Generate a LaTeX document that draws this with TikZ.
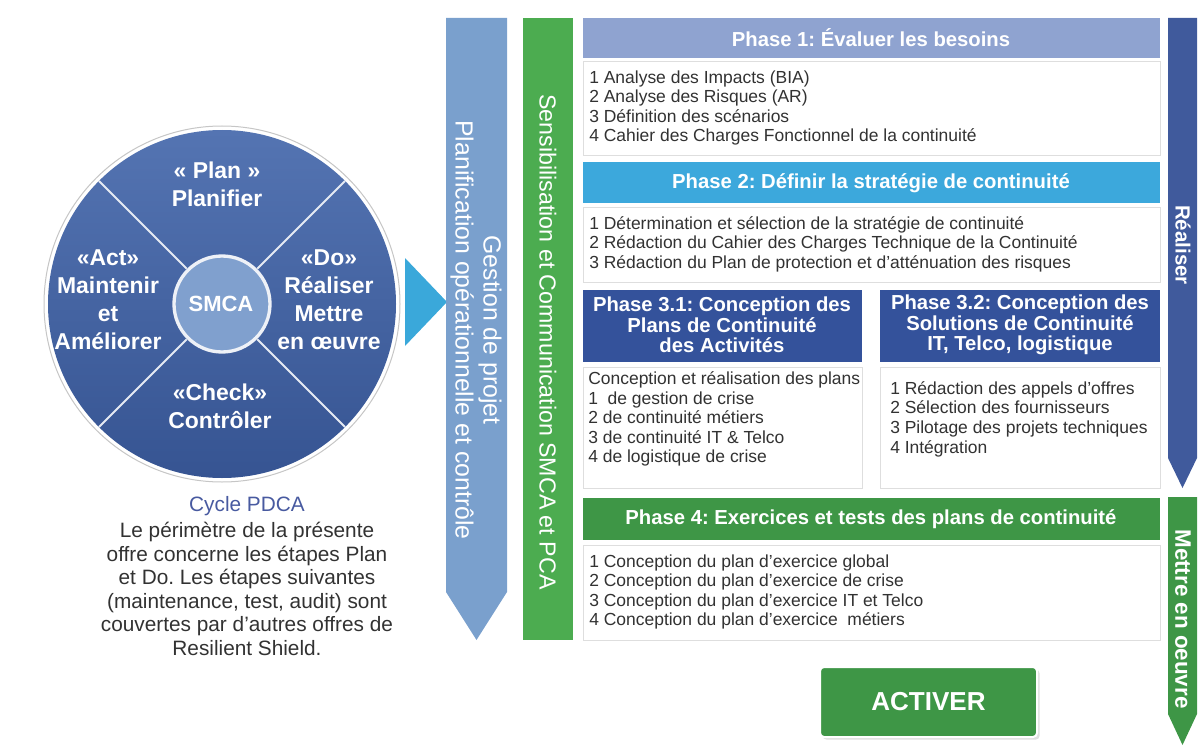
\documentclass[tikz,border=0pt]{standalone}
\usepackage{fontspec}
\setmainfont{Liberation Sans}
\usepackage{tikz}
\usetikzlibrary{shadows}
\frenchspacing

\definecolor{circtop}{RGB}{84,116,178}
\definecolor{circbot}{RGB}{54,84,146}
\definecolor{smcafill}{RGB}{128,160,206}
\definecolor{triblue}{RGB}{58,168,218}
\definecolor{gestblue}{RGB}{122,160,205}
\definecolor{sensgreen}{RGB}{76,172,80}
\definecolor{phaseone}{RGB}{143,163,208}
\definecolor{phasetwo}{RGB}{60,168,220}
\definecolor{phasethree}{RGB}{52,82,155}
\definecolor{phasefour}{RGB}{62,150,70}
\definecolor{realblue}{RGB}{64,90,156}
\definecolor{boxline}{RGB}{222,222,222}
\definecolor{txtgrey}{RGB}{50,50,50}
\definecolor{cycleblue}{RGB}{72,90,160}

\begin{document}
\begin{tikzpicture}[x=0.75pt,y=0.75pt,yscale=-1,xscale=1,
    header/.style={inner sep=0.75pt, align=center, text=white, font=\bfseries\fontsize{15.2}{15.4}\selectfont},
    listtext/.style={anchor=west, inner sep=0.75pt, align=left, text=txtgrey, font=\fontsize{13.1}{14.7}\selectfont},
    pdca/.style={inner sep=0.75pt, align=center, text=white, font=\bfseries\fontsize{17.2}{21}\selectfont},
    bodybox/.style={draw=boxline, fill=white, line width=0.75}]
    \useasboundingbox (0,0) rectangle (1200,749);
    
    %Shape: Circle [id:pdca rim] 
    \draw [draw=gray!45, fill=white, line width=0.75] (222,304) circle [x radius=178, y radius=178];
    \shade [top color=circtop, bottom color=circbot] (222,304) circle [x radius=174, y radius=174];
    %Straight Lines [id:pdca spokes] 
    \foreach \ang in {45,135,225,315}
      \draw [draw=white!85!circtop, line width=1.5, shift={(222,304)}] (\ang:50) -- (\ang:174);
    %Shape: Circle [id:smca] 
    \draw [draw=white!90!circtop, fill=smcafill, line width=2.5] (222,304) circle [x radius=48, y radius=48];
    
    % Text Node
    \draw (221,304) node [pdca, font=\bfseries\fontsize{16.5}{20}\selectfont] (smca) {SMCA};
    % Text Node
    \draw (217,184) node [pdca] (plan) {« Plan »\\Planifier};
    % Text Node
    \draw (108,300) node [pdca] (act) {«Act»\\Maintenir\\et\\Améliorer};
    % Text Node
    \draw (329,300) node [pdca] (do) {«Do»\\Réaliser\\Mettre\\en œuvre};
    % Text Node
    \draw (220,406) node [pdca] (check) {«Check»\\Contrôler};
    
    %Shape: Triangle [id:pdca arrow] 
    \draw [draw=none, fill=triblue] (405,258) -- (447,302) -- (405,346) -- cycle;
    
    % Text Node
    \draw (247,506) node [inner sep=0.75pt, text=cycleblue, font=\fontsize{15.6}{17.6}\selectfont] (cycle) {Cycle PDCA};
    % Text Node
    \draw (247,589) node [inner sep=0.75pt, align=center, text=txtgrey, font=\fontsize{15.6}{17.6}\selectfont] (perimetre) {Le périmètre de la présente\\offre concerne les étapes Plan\\et Do. Les étapes suivantes\\(maintenance, test, audit) sont\\couvertes par d'autres offres de\\Resilient Shield.};
    
    %Shape: Arrow [id:gestion] 
    \draw [draw=none, fill=gestblue] (446,18) -- (507,18) -- (507,592) -- (476.5,640) -- (446,592) -- cycle;
    % Text Node
    \draw (476,330) node [rotate=-90, inner sep=0.75pt, align=center, text=white, font=\fontsize{18.6}{21}\selectfont] (gestion) {Gestion de projet\\Planification opérationnelle et contrôle};
    
    %Shape: Rectangle [id:sensibilisation] 
    \draw [draw=none, fill=sensgreen] (523,18) rectangle (573,640);
    % Text Node
    \draw (548,342) node [rotate=-90, inner sep=0.75pt, text=white, font=\fontsize{17.4}{20}\selectfont] (sensib) {Sensibilisation et Communication SMCA et PCA};
    
    %Shape: Rectangle [id:phase 1] 
    \draw [draw=none, fill=phaseone] (583,18) rectangle (1160,58);
    \draw [bodybox] (583,62) rectangle (1160,155);
    % Text Node
    \draw (871,38) node [header] (p1head) {Phase 1: Évaluer les besoins};
    % Text Node
    \draw (588,108) node [listtext] (p1list) {1 Analyse des Impacts (BIA)\\2 Analyse des Risques (AR)\\3 Définition des scénarios\\4 Cahier des Charges Fonctionnel de la continuité};
    
    %Shape: Rectangle [id:phase 2] 
    \draw [draw=none, fill=phasetwo] (583,162) rectangle (1160,203);
    \draw [bodybox] (583,207) rectangle (1160,282);
    % Text Node
    \draw (871,183) node [header] (p2head) {Phase 2: Définir la stratégie de continuité};
    % Text Node
    \draw (588,244) node [listtext] (p2list) {1 Détermination et sélection de la stratégie de continuité\\2 Rédaction du Cahier des Charges Technique de la Continuité\\3 Rédaction du Plan de protection et d'atténuation des risques};
    
    %Shape: Rectangle [id:phase 3.1] 
    \draw [draw=none, fill=phasethree] (583,290) rectangle (862,362);
    \draw [bodybox] (583,367) rectangle (862,488);
    % Text Node
    \draw (722,325) node [header] (p31head) {Phase 3.1: Conception des\\Plans de Continuité\\des Activités};
    % Text Node
    \draw (587,419) node [listtext] (p31list) {Conception et réalisation des plans\\1~ de gestion de crise\\2 de continuité métiers\\3 de continuité IT \& Telco\\4 de logistique de crise};
    
    %Shape: Rectangle [id:phase 3.2] 
    \draw [draw=none, fill=phasethree] (880,290) rectangle (1160,362);
    \draw [bodybox] (880,367) rectangle (1160,488);
    % Text Node
    \draw (1020,325) node [header] (p32head) {Phase 3.2: Conception des\\Solutions de Continuité\\IT, Telco, logistique};
    % Text Node
    \draw (889,419) node [listtext] (p32list) {1 Rédaction des appels d'offres\\2 Sélection des fournisseurs\\3 Pilotage des projets techniques\\4 Intégration};
    
    %Shape: Rectangle [id:phase 4] 
    \draw [draw=none, fill=phasefour] (583,498) rectangle (1160,540);
    \draw [bodybox] (583,545) rectangle (1160,640);
    % Text Node
    \draw (871,519) node [header] (p4head) {Phase 4: Exercices et tests des plans de continuité};
    % Text Node
    \draw (588,592) node [listtext] (p4list) {1 Conception du plan d'exercice global\\2 Conception du plan d'exercice de crise\\3 Conception du plan d'exercice IT et Telco\\4 Conception du plan d'exercice~ métiers};
    
    %Shape: Arrow [id:realiser] 
    \draw [draw=none, fill=realblue] (1168,18) -- (1197,18) -- (1197,458) -- (1182.5,488) -- (1168,458) -- cycle;
    % Text Node
    \draw (1183,245) node [rotate=-90, inner sep=0.75pt, text=white, font=\bfseries\fontsize{15.4}{18}\selectfont] (realiser) {Réaliser};
    
    %Shape: Arrow [id:mettre en oeuvre] 
    \draw [draw=none, fill=phasefour] (1168,497) -- (1197,497) -- (1197,714) -- (1182.5,745) -- (1168,714) -- cycle;
    % Text Node
    \draw (1183,619) node [rotate=-90, inner sep=0.75pt, text=white, font=\bfseries\fontsize{16.8}{18}\selectfont] (mettre) {Mettre en oeuvre};
    
    %Shape: Rectangle [id:activer] 
    \draw [draw=white, fill=phasefour, line width=1.5, rounded corners=3, drop shadow={opacity=0.25, shadow xshift=2pt, shadow yshift=-2pt}] (820,667) rectangle (1037,737);
    % Text Node
    \draw (928.5,702) node [inner sep=0.75pt, text=white, font=\bfseries\fontsize{19.5}{22}\selectfont] (activer) {ACTIVER};
    
\end{tikzpicture}
\end{document}
